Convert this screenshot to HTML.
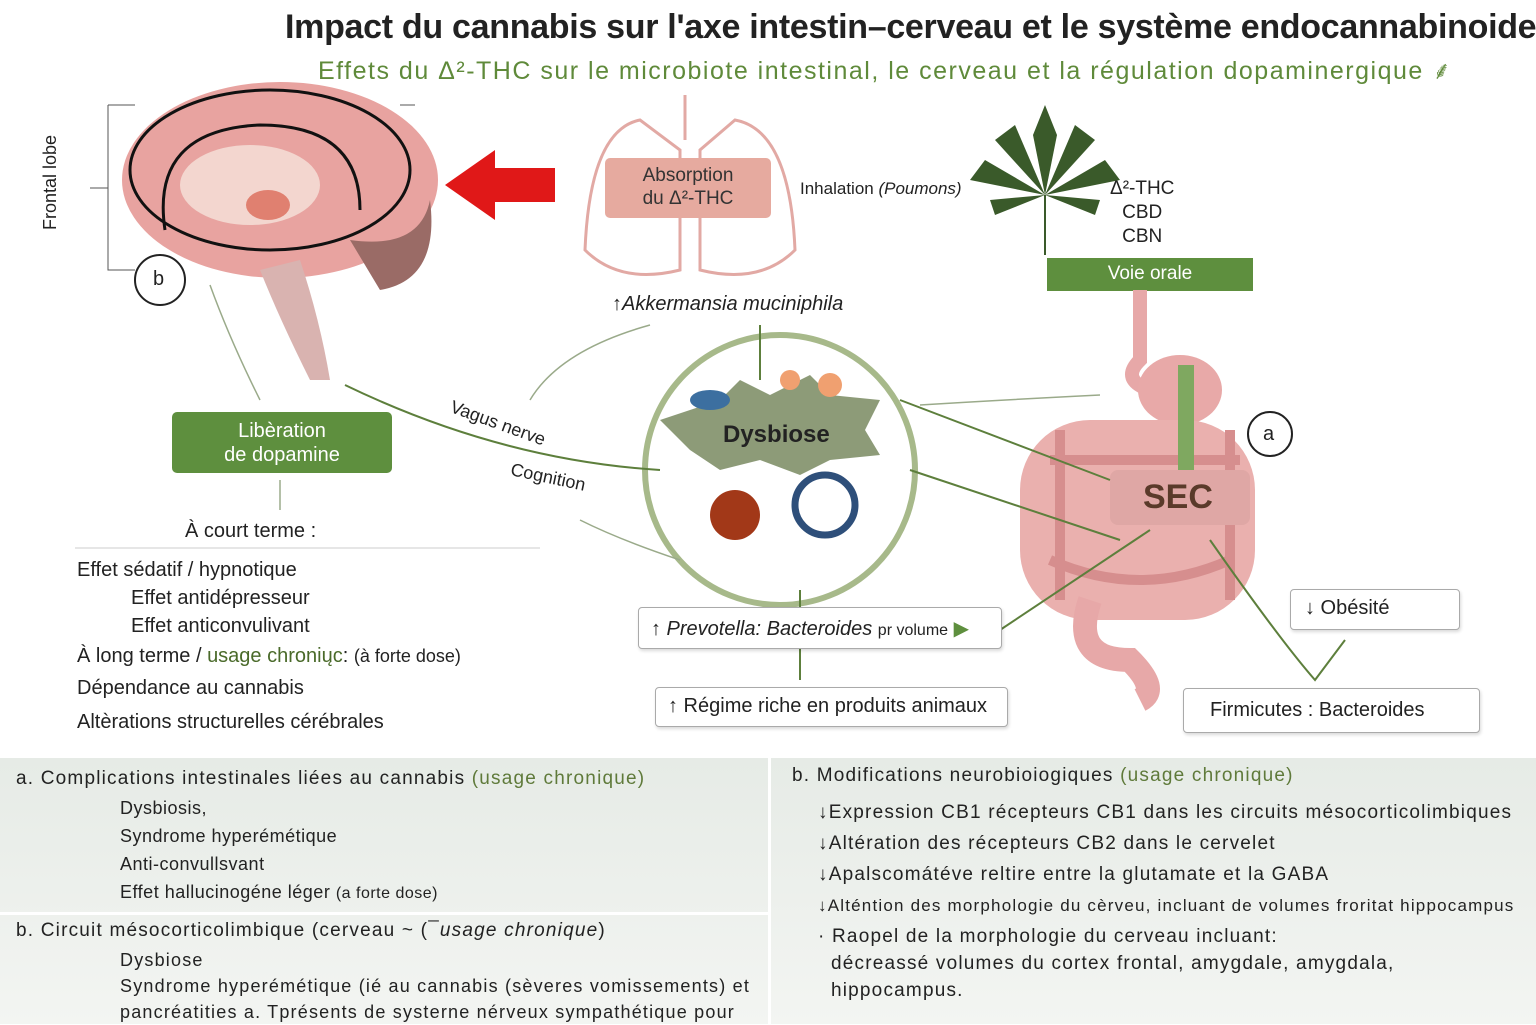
<!DOCTYPE html>
<html><head><meta charset="utf-8"><style>
*{margin:0;padding:0;box-sizing:border-box}
body{width:1536px;height:1024px;background:#fff;position:relative;overflow:hidden;font-family:"Liberation Sans",sans-serif;color:#222}
.a{position:absolute;white-space:nowrap}
.box{position:absolute;border:1.5px solid #aaa;border-radius:4px;background:#fff;box-shadow:1px 2px 3px rgba(0,0,0,.15)}
.ls{letter-spacing:1.2px}
</style></head><body>
<div class="a" style="left:285px;top:8px;font-size:34px;font-weight:bold;color:#222;letter-spacing:-0.3px">Impact du cannabis sur l'axe intestin–cerveau et le système endocannabinoide</div>
<div class="a" style="left:318px;top:53px;font-size:25px;color:#5f8a3a;letter-spacing:1.5px">Effets du Δ²-THC sur le microbiote intestinal, le cerveau et la régulation dopaminergique ⸙</div>

<svg class="a" style="left:0;top:0" width="1536" height="760">
 <path d="M108 105H135M108 105V270H135M90 188H108M400 105H415" stroke="#555" fill="none"/>
 <ellipse cx="280" cy="180" rx="158" ry="98" fill="#e8a3a0"/>
 <path d="M300 260 Q320 320 330 380 L310 380 Q280 320 260 270Z" fill="#d9b3b0"/>
 <path d="M350 240 Q420 250 430 200 Q440 280 380 290Z" fill="#9a6b66"/>
 <ellipse cx="250" cy="185" rx="70" ry="40" fill="#f3d6cf"/>
 <ellipse cx="268" cy="205" rx="22" ry="15" fill="#e08070"/>
 <ellipse cx="270" cy="170" rx="140" ry="80" fill="none" stroke="#111" stroke-width="3"/>
 <path d="M165 230 Q150 130 260 125 Q360 125 360 210" fill="none" stroke="#111" stroke-width="3"/>
 <circle cx="160" cy="280" r="25" fill="#fff" stroke="#222" stroke-width="2"/>
 <path d="M555 168H495V150L445 185L495 220V202H555Z" fill="#e01818"/>
 <path d="M685 95 V140 M640 120 Q590 130 585 250 Q620 285 680 270 L680 150 Z M735 120 Q790 130 795 250 Q760 285 700 270 L700 150Z" fill="none" stroke="#e2a9a4" stroke-width="3"/>
 <rect x="605" y="158" width="166" height="60" rx="5" fill="#e6aa9f"/>
 <g fill="#3a5a2a" transform="translate(1045,195)">
  <path d="M0 0 L-12 -60 L0 -90 L12 -60Z"/><path d="M0 0 L-50 -55 L-30 -70Z"/><path d="M0 0 L50 -55 L30 -70Z"/>
  <path d="M0 0 L-75 -15 L-60 -35Z"/><path d="M0 0 L75 -15 L60 -35Z"/><path d="M0 0 L-50 20 L-55 5Z"/><path d="M0 0 L50 20 L55 5Z"/>
  <path d="M0 0 V60" stroke="#3a5a2a" stroke-width="2"/>
 </g>
 <rect x="1047" y="258" width="206" height="33" fill="#5e8f3e"/>
 <path d="M1140 290 V360 Q1120 380 1150 390" stroke="#e7a8a8" stroke-width="14" fill="none"/>
 <ellipse cx="1180" cy="390" rx="42" ry="35" fill="#e8a9a8"/>
 <rect x="1020" y="420" width="235" height="200" rx="70" fill="#eab0ae"/>
 <path d="M1060 430 V600 M1230 430 V600 M1050 460 H1240 M1050 560 Q1140 600 1230 560" stroke="#d68e8e" stroke-width="10" fill="none"/>
 <path d="M1090 600 Q1070 660 1130 660 Q1160 690 1140 700" stroke="#e7a8a8" stroke-width="24" fill="none"/>
 <rect x="1178" y="365" width="16" height="110" fill="#7fa860"/>
 <rect x="1110" y="470" width="140" height="55" rx="8" fill="#dfa7a5"/>
 <circle cx="1270" cy="434" r="22" fill="#fff" stroke="#222" stroke-width="2"/>
 <circle cx="780" cy="470" r="135" fill="#fff" stroke="#a7b98a" stroke-width="6"/>
 <path d="M660 420 L720 400 L740 380 L770 395 L810 375 L830 395 L880 400 L865 430 L880 455 L830 460 L800 475 L760 460 L720 470 L690 450Z" fill="#8d9b78"/>
 <circle cx="735" cy="515" r="25" fill="#a23818"/>
 <circle cx="825" cy="505" r="30" fill="#fff" stroke="#2e4f7a" stroke-width="7"/>
 <circle cx="790" cy="380" r="10" fill="#f0a070"/><circle cx="830" cy="385" r="12" fill="#f0a070"/>
 <ellipse cx="710" cy="400" rx="20" ry="10" fill="#3c6fa0"/>
 <g stroke="#5d7f3c" stroke-width="2" fill="none">
  <path d="M345 385 Q500 460 660 470"/>
  <path d="M760 325 V380"/>
  <path d="M800 590 V680"/>
  <path d="M910 470 L1120 540"/><path d="M900 400 L1110 480"/>
  <path d="M1000 630 L1150 530"/>
  <path d="M1210 540 Q1280 640 1315 680 L1345 640"/>
 </g>
 <g stroke="#9aaa8a" stroke-width="1.5" fill="none">
  <path d="M650 325 Q560 350 530 400"/><path d="M680 560 Q620 540 580 520"/>
  <path d="M1100 395 Q1000 400 920 405"/>
  <path d="M210 285 Q230 340 260 400"/>
  <path d="M280 480 V510"/>
 </g>
 <line x1="75" y1="548" x2="540" y2="548" stroke="#ccc"/>
</svg>

<div class="a" style="left:40px;top:230px;transform:rotate(-90deg);transform-origin:left top;font-size:18px">Frontal lobe</div>
<div class="a" style="left:153px;top:268px;font-size:20px">b</div>
<div class="a" style="left:605px;top:164px;width:166px;text-align:center;font-size:19px;line-height:23px;color:#333">Absorption<br>du Δ²-THC</div>
<div class="a" style="left:800px;top:179px;font-size:17px">Inhalation <i>(Poumons)</i></div>
<div class="a" style="left:1110px;top:177px;font-size:19px;line-height:24px;text-align:center">Δ²-THC<br>CBD<br>CBN</div>
<div class="a" style="left:1047px;top:263px;width:206px;text-align:center;font-size:19px;color:#fff">Voie orale</div>
<div class="a" style="left:612px;top:293px;font-size:20px;font-style:italic">↑Akkermansia muciniphila</div>
<div class="a" style="left:723px;top:421px;font-size:24px;font-weight:bold;color:#222">Dysbiose</div>
<div class="a" style="left:448px;top:413px;font-size:18px;transform:rotate(20deg)">Vagus nerve</div>
<div class="a" style="left:510px;top:467px;font-size:18px;transform:rotate(12deg)">Cognition</div>
<div class="a" style="left:1143px;top:478px;font-size:34px;font-weight:bold;color:#5a3a2a">SEC</div>
<div class="a" style="left:1263px;top:423px;font-size:20px">a</div>
<div class="a" style="left:172px;top:412px;width:220px;height:61px;background:#5e8f3e;border-radius:5px;color:#fff;font-size:20px;text-align:center;line-height:24px;padding-top:7px">Libèration<br>de dopamine</div>
<div class="a" style="left:185px;top:520px;font-size:20px">À court terme :</div>
<div class="a" style="left:77px;top:556px;font-size:20px;line-height:28px">Effet sédatif / hypnotique<br><span style="margin-left:54px">Effet antidépresseur</span><br><span style="margin-left:54px">Effet anticonvulivant</span></div>
<div class="a" style="left:77px;top:645px;font-size:20px">À long terme / <b style="color:#4a6a2a;font-weight:normal">usage chroniųc</b>: <span style="font-size:18px">(à forte dose)</span></div>
<div class="a" style="left:77px;top:677px;font-size:20px">Dépendance au cannabis</div>
<div class="a" style="left:77px;top:711px;font-size:20px">Altèrations structurelles cérébrales</div>
<div class="box" style="left:638px;top:607px;width:364px;height:42px;font-size:20px;padding:8px 12px"><i>↑ Prevotella: Bacteroides</i> <span style="font-size:16px">pr volume</span> <span style="color:#5e8f3e">▶</span></div>
<div class="box" style="left:655px;top:687px;width:353px;height:40px;font-size:20px;padding:7px 12px">↑ Régime riche en produits animaux</div>
<div class="box" style="left:1290px;top:589px;width:170px;height:41px;font-size:20px;padding:7px 14px">↓ Obésité</div>
<div class="box" style="left:1183px;top:688px;width:297px;height:45px;font-size:20px;padding:10px 26px">Firmicutes : Bacteroides</div>

<div class="a" style="left:0;top:758px;width:1536px;height:266px;background:linear-gradient(#e6ebe6,#f3f5f2)"></div>
<div class="a" style="left:768px;top:758px;width:3px;height:266px;background:#fff"></div>
<div class="a" style="left:0;top:912px;width:768px;height:3px;background:#fff"></div>
<div class="a ls" style="left:16px;top:765px;font-size:19px;line-height:28px">a. Complications intestinales liées au cannabis <span style="color:#5f7a3a">(usage chronique)</span></div>
<div class="a" style="left:120px;top:794px;font-size:18px;line-height:28px;letter-spacing:0.5px">Dysbiosis,<br>Syndrome hyperémétique<br>Anti-convullsvant<br>Effet hallucinogéne léger <span style="font-size:16px">(a forte dose)</span></div>
<div class="a ls" style="left:16px;top:920px;font-size:19px">b. Circuit mésocorticolimbique (cerveau ~ (<i>¯usage chronique</i>)</div>
<div class="a ls" style="left:120px;top:947px;font-size:18px;line-height:26px">Dysbiose<br>Syndrome hyperémétique (ié au cannabis (sèveres vomissements) et<br>pancréatities a. Tprésents de systerne nérveux sympathétique pour</div>
<div class="a ls" style="left:792px;top:765px;font-size:19px">b. Modifications neurobioiogiques <span style="color:#5f7a3a">(usage chronique)</span></div>
<div class="a ls" style="left:818px;top:797px;font-size:19px;line-height:31px">↓Expression CB1 récepteurs CB1 dans les circuits mésocorticolimbiques<br>↓Altération des récepteurs CB2 dans le cervelet<br>↓Apalscomátéve reltire entre la glutamate et la GABA<br><span style="font-size:17px">↓Alténtion des morphologie du cèrveu, incluant de volumes froritat hippocampus</span></div>
<div class="a ls" style="left:818px;top:923px;font-size:19px;line-height:27px">· Raopel de la morphologie du cerveau incluant:<br>&nbsp; décreassé volumes du cortex frontal, amygdale, amygdala,<br>&nbsp; hippocampus.</div>
</body></html>
